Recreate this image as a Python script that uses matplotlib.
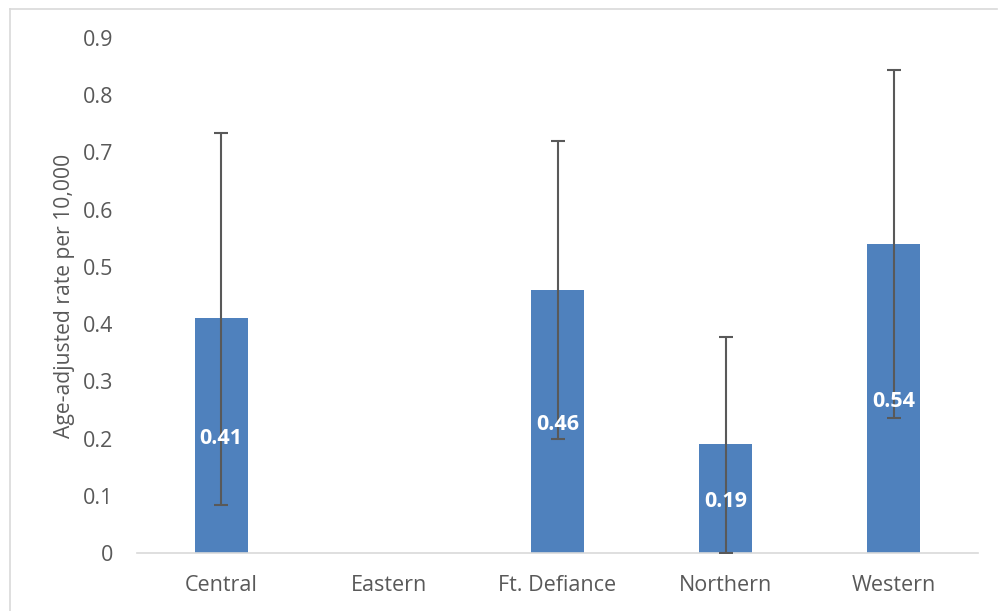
import matplotlib
matplotlib.use("Agg")
import matplotlib.pyplot as plt
import numpy as np
from matplotlib.lines import Line2D

categories = ["Central", "Eastern", "Ft. Defiance", "Northern", "Western"]
values = [0.41, np.nan, 0.46, 0.19, 0.54]
upper = [0.734, np.nan, 0.72, 0.377, 0.844]
lower = [0.084, np.nan, 0.20, 0.0, 0.236]
labels = ["0.41", "", "0.46", "0.19", "0.54"]
yticks = [0, 0.1, 0.2, 0.3, 0.4, 0.5, 0.6, 0.7, 0.8, 0.9]

plt.rcParams['font.family'] = ['Open Sans', 'DejaVu Sans']
fig = plt.figure(figsize=(9.98, 6.11), dpi=100)
ax = fig.add_axes([137/998, 1-553/611, (978-137)/998, (553-38)/611])

x = np.arange(len(categories))
vals = np.array(values, dtype=float)
up = np.array(upper, dtype=float)
lo = np.array(lower, dtype=float)
mask = ~np.isnan(vals)
ax.bar(x[mask], vals[mask], width=0.315, color="#4F81BD", zorder=2)
ax.errorbar(x[mask], vals[mask], yerr=[vals[mask]-lo[mask], up[mask]-vals[mask]],
            fmt="none", ecolor="#595959", elinewidth=1.5, capsize=5, capthick=1.5, zorder=3)
for xi, v, lab in zip(x, vals, labels):
    if lab:
        ax.annotate(lab, (xi, v/2), xytext=(0, -2), textcoords="offset points",
                    ha="center", va="center", color="white",
                    fontsize=15.5, fontweight="bold", zorder=4)

ax.set_xlim(-0.5, 4.5)
ax.set_ylim(0, 0.9)
ax.set_yticks(yticks)
ax.set_yticklabels([f"{t:g}" for t in yticks])
ax.set_xticks(x)
ax.set_xticklabels(categories)
ax.tick_params(axis="both", length=0, labelsize=15.5, colors="#595959")
ax.tick_params(axis="x", pad=16)
ax.tick_params(axis="y", pad=17)
for s in ["top", "right", "left"]:
    ax.spines[s].set_visible(False)
ax.spines["bottom"].set_color("#D9D9D9")
ax.spines["bottom"].set_linewidth(1.2)
ax.set_ylabel("Age-adjusted rate per 10,000", fontsize=15.2, color="#595959", labelpad=6)

# figure border
fig.add_artist(Line2D([10/998, 997/998], [1-9/611, 1-9/611], color="#D9D9D9", lw=1.2, transform=fig.transFigure))
fig.add_artist(Line2D([10/998, 10/998], [1-9/611, 0], color="#D9D9D9", lw=1.2, transform=fig.transFigure))

fig.savefig("out.png", dpi=100)
